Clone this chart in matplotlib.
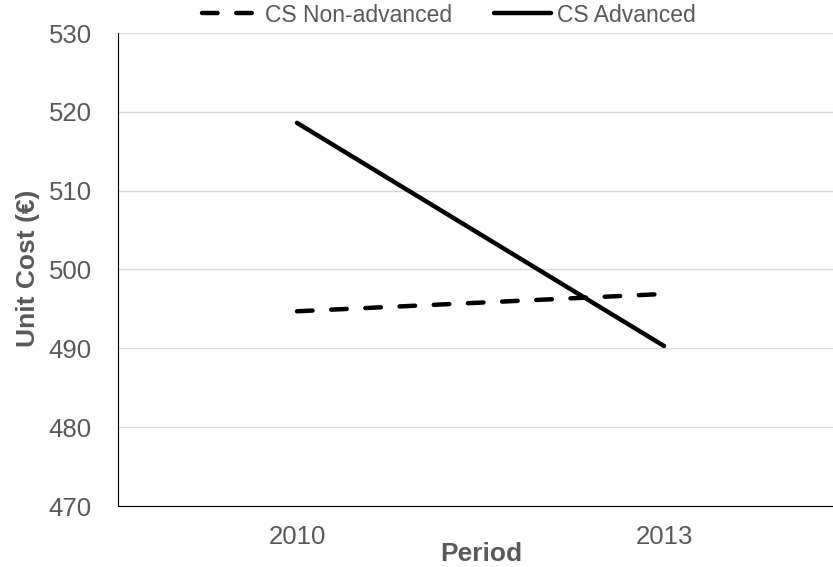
import matplotlib
matplotlib.use("Agg")
import matplotlib.pyplot as plt

periods = ["2010", "2013"]
non_advanced = [494.7, 496.9]
advanced = [518.6, 490.3]
yticks = [470, 480, 490, 500, 510, 520, 530]

plt.rcParams['font.family'] = ['Liberation Sans', 'DejaVu Sans']
grey = '#595959'

fig = plt.figure(figsize=(8.33, 5.67), dpi=100)
ax = fig.add_axes([118/833, 61/567, 1 - 118/833, (506-33)/567])

x = list(range(len(periods)))
ax.plot(x, non_advanced, color='black', lw=3.2, ls=(0, (3.5, 4.2)), solid_capstyle='round', dash_capstyle='round', label='CS Non-advanced')
ax.plot(x, advanced, color='black', lw=3.2, solid_capstyle='round', label='CS Advanced')

ax.set_xlim((118-297)/367, (833-297)/367)
ax.set_ylim(470, 530)
ax.set_yticks(yticks)
ax.set_xticks(x)
ax.set_xticklabels(periods)
ax.grid(axis='y', color='#d9d9d9', lw=1)
ax.set_axisbelow(True)
for s in ['top', 'right']:
    ax.spines[s].set_visible(False)
ax.spines['left'].set_color('black')
ax.spines['bottom'].set_color('black')
ax.tick_params(axis='both', length=0, labelsize=18.5, colors=grey)
ax.tick_params(axis='x', pad=14)
ax.tick_params(axis='y', pad=19)
ax.set_ylabel('Unit Cost (€)', fontsize=19, fontweight='bold', color=grey)
ax.set_xlabel('Period', fontsize=19, fontweight='bold', color=grey)
ax.yaxis.set_label_coords(28/833, 1 - 268/567, transform=fig.transFigure)
ax.xaxis.set_label_coords(481/833, 1 - 554/567, transform=fig.transFigure)
ax.xaxis.label.set_verticalalignment('center')
ax.yaxis.label.set_verticalalignment('center')

leg = fig.legend(*ax.get_legend_handles_labels(), loc='center',
                 bbox_to_anchor=((118 + 0.463*715)/833, 1 - 15/567), ncol=2, frameon=False,
                 fontsize=16.5, handlelength=2.5, columnspacing=1.8, handletextpad=0.25, borderaxespad=0,
                 borderpad=0)
for t in leg.get_texts():
    t.set_color(grey)

fig.savefig('out.png', dpi=100)
